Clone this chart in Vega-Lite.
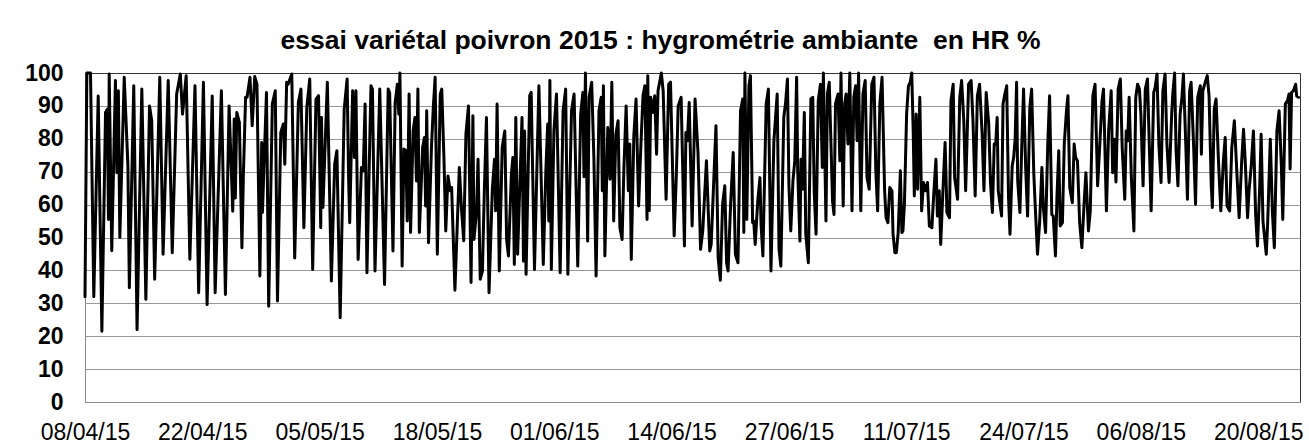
{
  "$schema": "https://vega.github.io/schema/vega-lite/v6.json",
  "width": 1215,
  "height": 329,
  "autosize": {"type": "none"},
  "padding": {"left": 85, "top": 73, "right": 9, "bottom": 43},
  "background": "white",
  "title": {
    "text": "essai variétal poivron 2015 : hygrométrie ambiante\u00a0 en HR %",
    "font": "Liberation Sans",
    "fontSize": 26.5,
    "fontWeight": "bold",
    "color": "black",
    "anchor": "middle",
    "offset": 8,
    "dx": -32
  },
  "config": {
    "view": {"stroke": "#333333", "strokeWidth": 1}
  },
  "data": {
    "values": [
      {"date": "2015-04-08T16:00", "HR": 32},
      {"date": "2015-04-08T21:00", "HR": 100},
      {"date": "2015-04-09T07:00", "HR": 100},
      {"date": "2015-04-09T16:00", "HR": 32},
      {"date": "2015-04-10T04:00", "HR": 93},
      {"date": "2015-04-10T14:00", "HR": 21.5},
      {"date": "2015-04-11T00:00", "HR": 88},
      {"date": "2015-04-11T05:00", "HR": 89},
      {"date": "2015-04-11T08:00", "HR": 55.5},
      {"date": "2015-04-11T10:00", "HR": 99.7},
      {"date": "2015-04-11T17:00", "HR": 46},
      {"date": "2015-04-12T03:00", "HR": 97.7},
      {"date": "2015-04-12T07:00", "HR": 69.7},
      {"date": "2015-04-12T11:00", "HR": 94.6},
      {"date": "2015-04-12T15:00", "HR": 50},
      {"date": "2015-04-13T03:00", "HR": 98.7},
      {"date": "2015-04-13T13:00", "HR": 72},
      {"date": "2015-04-13T17:00", "HR": 34.7},
      {"date": "2015-04-14T05:00", "HR": 96.1},
      {"date": "2015-04-14T14:00", "HR": 22},
      {"date": "2015-04-15T03:00", "HR": 95.1},
      {"date": "2015-04-15T14:00", "HR": 31.2},
      {"date": "2015-04-16T00:00", "HR": 90},
      {"date": "2015-04-16T06:00", "HR": 85.5},
      {"date": "2015-04-16T14:00", "HR": 37.3},
      {"date": "2015-04-17T04:00", "HR": 98.7},
      {"date": "2015-04-17T13:00", "HR": 44.9},
      {"date": "2015-04-18T03:00", "HR": 97.7},
      {"date": "2015-04-18T14:00", "HR": 45.4},
      {"date": "2015-04-19T02:00", "HR": 93.6},
      {"date": "2015-04-19T12:00", "HR": 99.7},
      {"date": "2015-04-19T18:00", "HR": 87.5},
      {"date": "2015-04-20T04:00", "HR": 99.2},
      {"date": "2015-04-20T14:00", "HR": 43.4},
      {"date": "2015-04-21T04:00", "HR": 96.1},
      {"date": "2015-04-21T14:00", "HR": 33.2},
      {"date": "2015-04-22T03:00", "HR": 97.2},
      {"date": "2015-04-22T13:00", "HR": 29.6},
      {"date": "2015-04-23T03:00", "HR": 93},
      {"date": "2015-04-23T11:00", "HR": 33.2},
      {"date": "2015-04-24T04:00", "HR": 94.6},
      {"date": "2015-04-24T15:00", "HR": 32.7},
      {"date": "2015-04-25T01:00", "HR": 90},
      {"date": "2015-04-25T11:00", "HR": 58},
      {"date": "2015-04-25T15:00", "HR": 86},
      {"date": "2015-04-25T18:00", "HR": 62},
      {"date": "2015-04-25T22:00", "HR": 88},
      {"date": "2015-04-26T05:00", "HR": 85},
      {"date": "2015-04-26T12:00", "HR": 46.9},
      {"date": "2015-04-26T16:00", "HR": 69},
      {"date": "2015-04-26T22:00", "HR": 92.6},
      {"date": "2015-04-27T02:00", "HR": 92.6},
      {"date": "2015-04-27T10:00", "HR": 98.7},
      {"date": "2015-04-27T16:00", "HR": 84},
      {"date": "2015-04-27T23:00", "HR": 98.9},
      {"date": "2015-04-28T05:00", "HR": 96.6},
      {"date": "2015-04-28T13:00", "HR": 38.3},
      {"date": "2015-04-28T18:00", "HR": 78.9},
      {"date": "2015-04-28T20:00", "HR": 57.6},
      {"date": "2015-04-29T07:00", "HR": 94.1},
      {"date": "2015-04-29T13:00", "HR": 29.1},
      {"date": "2015-04-29T23:00", "HR": 90.6},
      {"date": "2015-04-30T07:00", "HR": 94.6},
      {"date": "2015-04-30T13:00", "HR": 30.7},
      {"date": "2015-04-30T22:00", "HR": 81.9},
      {"date": "2015-05-01T05:00", "HR": 84.5},
      {"date": "2015-05-01T09:00", "HR": 72.3},
      {"date": "2015-05-01T14:00", "HR": 97.2},
      {"date": "2015-05-01T18:00", "HR": 96.6},
      {"date": "2015-05-02T04:00", "HR": 99.7},
      {"date": "2015-05-02T12:00", "HR": 43.8},
      {"date": "2015-05-02T22:00", "HR": 91},
      {"date": "2015-05-03T05:00", "HR": 95.1},
      {"date": "2015-05-03T13:00", "HR": 53},
      {"date": "2015-05-03T21:00", "HR": 89.5},
      {"date": "2015-05-04T05:00", "HR": 98.2},
      {"date": "2015-05-04T13:00", "HR": 40.3},
      {"date": "2015-05-04T22:00", "HR": 92},
      {"date": "2015-05-05T05:00", "HR": 93.1},
      {"date": "2015-05-05T11:00", "HR": 53},
      {"date": "2015-05-05T13:00", "HR": 86.5},
      {"date": "2015-05-05T17:00", "HR": 59.1},
      {"date": "2015-05-06T05:00", "HR": 97.2},
      {"date": "2015-05-06T16:00", "HR": 36.8},
      {"date": "2015-05-07T01:00", "HR": 72.3},
      {"date": "2015-05-07T07:00", "HR": 76.4},
      {"date": "2015-05-07T16:00", "HR": 25.6},
      {"date": "2015-05-08T03:00", "HR": 89},
      {"date": "2015-05-08T11:00", "HR": 98.2},
      {"date": "2015-05-08T15:00", "HR": 68.2},
      {"date": "2015-05-08T18:00", "HR": 54.5},
      {"date": "2015-05-09T02:00", "HR": 94.6},
      {"date": "2015-05-09T07:00", "HR": 74.3},
      {"date": "2015-05-09T11:00", "HR": 94.6},
      {"date": "2015-05-09T17:00", "HR": 43.3},
      {"date": "2015-05-10T02:00", "HR": 71.3},
      {"date": "2015-05-10T07:00", "HR": 70.3},
      {"date": "2015-05-10T12:00", "HR": 90.6},
      {"date": "2015-05-10T17:00", "HR": 39.3},
      {"date": "2015-05-11T04:00", "HR": 96.1},
      {"date": "2015-05-11T08:00", "HR": 95.1},
      {"date": "2015-05-11T15:00", "HR": 39.8},
      {"date": "2015-05-12T04:00", "HR": 95.1},
      {"date": "2015-05-12T17:00", "HR": 35.7},
      {"date": "2015-05-13T03:00", "HR": 95.1},
      {"date": "2015-05-13T07:00", "HR": 94},
      {"date": "2015-05-13T16:00", "HR": 45.9},
      {"date": "2015-05-13T22:00", "HR": 91},
      {"date": "2015-05-14T04:00", "HR": 96.6},
      {"date": "2015-05-14T08:00", "HR": 87.5},
      {"date": "2015-05-14T11:00", "HR": 100},
      {"date": "2015-05-14T17:00", "HR": 41.3},
      {"date": "2015-05-14T22:00", "HR": 76.9},
      {"date": "2015-05-15T03:00", "HR": 76.4},
      {"date": "2015-05-15T07:00", "HR": 55},
      {"date": "2015-05-15T12:00", "HR": 93.6},
      {"date": "2015-05-15T16:00", "HR": 51.5},
      {"date": "2015-05-15T23:00", "HR": 82.4},
      {"date": "2015-05-16T04:00", "HR": 86.5},
      {"date": "2015-05-16T08:00", "HR": 67.2},
      {"date": "2015-05-16T12:00", "HR": 95.1},
      {"date": "2015-05-16T16:00", "HR": 51.5},
      {"date": "2015-05-17T01:00", "HR": 77.4},
      {"date": "2015-05-17T06:00", "HR": 80.4},
      {"date": "2015-05-17T09:00", "HR": 59.6},
      {"date": "2015-05-17T12:00", "HR": 88.5},
      {"date": "2015-05-17T17:00", "HR": 48.4},
      {"date": "2015-05-18T01:00", "HR": 77.4},
      {"date": "2015-05-18T06:00", "HR": 89.5},
      {"date": "2015-05-18T11:00", "HR": 98.7},
      {"date": "2015-05-18T17:00", "HR": 44.9},
      {"date": "2015-05-19T01:00", "HR": 93.6},
      {"date": "2015-05-19T05:00", "HR": 95.1},
      {"date": "2015-05-19T11:00", "HR": 74.4},
      {"date": "2015-05-19T16:00", "HR": 52},
      {"date": "2015-05-19T22:00", "HR": 68.7},
      {"date": "2015-05-20T04:00", "HR": 64.2},
      {"date": "2015-05-20T08:00", "HR": 65.2},
      {"date": "2015-05-20T17:00", "HR": 34},
      {"date": "2015-05-21T05:00", "HR": 71.3},
      {"date": "2015-05-21T11:00", "HR": 58.6},
      {"date": "2015-05-21T17:00", "HR": 49},
      {"date": "2015-05-21T23:00", "HR": 81.4},
      {"date": "2015-05-22T06:00", "HR": 90},
      {"date": "2015-05-22T13:00", "HR": 36.3},
      {"date": "2015-05-22T18:00", "HR": 87},
      {"date": "2015-05-22T21:00", "HR": 49.4},
      {"date": "2015-05-23T04:00", "HR": 58.1},
      {"date": "2015-05-23T08:00", "HR": 73.8},
      {"date": "2015-05-23T14:00", "HR": 37.3},
      {"date": "2015-05-23T20:00", "HR": 39.8},
      {"date": "2015-05-24T01:00", "HR": 63.2},
      {"date": "2015-05-24T07:00", "HR": 86.5},
      {"date": "2015-05-24T14:00", "HR": 33.2},
      {"date": "2015-05-24T23:00", "HR": 64.7},
      {"date": "2015-05-25T05:00", "HR": 73.8},
      {"date": "2015-05-25T08:00", "HR": 58.1},
      {"date": "2015-05-25T12:00", "HR": 90.6},
      {"date": "2015-05-25T18:00", "HR": 39.8},
      {"date": "2015-05-26T02:00", "HR": 77.4},
      {"date": "2015-05-26T09:00", "HR": 82.4},
      {"date": "2015-05-26T14:00", "HR": 49.4},
      {"date": "2015-05-26T19:00", "HR": 44.4},
      {"date": "2015-05-27T03:00", "HR": 69.2},
      {"date": "2015-05-27T07:00", "HR": 74.3},
      {"date": "2015-05-27T11:00", "HR": 41.8},
      {"date": "2015-05-27T15:00", "HR": 86.5},
      {"date": "2015-05-27T20:00", "HR": 44.9},
      {"date": "2015-05-28T08:00", "HR": 86.5},
      {"date": "2015-05-28T12:00", "HR": 42.8},
      {"date": "2015-05-28T15:00", "HR": 82.4},
      {"date": "2015-05-28T19:00", "HR": 38.8},
      {"date": "2015-05-29T05:00", "HR": 93.1},
      {"date": "2015-05-29T09:00", "HR": 94.1},
      {"date": "2015-05-29T18:00", "HR": 40.3},
      {"date": "2015-05-30T06:00", "HR": 96.1},
      {"date": "2015-05-30T18:00", "HR": 41.8},
      {"date": "2015-05-31T01:00", "HR": 70.3},
      {"date": "2015-05-31T06:00", "HR": 84.5},
      {"date": "2015-05-31T09:00", "HR": 55},
      {"date": "2015-05-31T12:00", "HR": 97.7},
      {"date": "2015-05-31T16:00", "HR": 40.3},
      {"date": "2015-05-31T23:00", "HR": 82.4},
      {"date": "2015-06-01T06:00", "HR": 93.6},
      {"date": "2015-06-01T16:00", "HR": 39.3},
      {"date": "2015-06-02T00:00", "HR": 88.5},
      {"date": "2015-06-02T07:00", "HR": 95.1},
      {"date": "2015-06-02T13:00", "HR": 38.8},
      {"date": "2015-06-02T23:00", "HR": 88.5},
      {"date": "2015-06-03T06:00", "HR": 93.6},
      {"date": "2015-06-03T16:00", "HR": 41.3},
      {"date": "2015-06-04T00:00", "HR": 87.5},
      {"date": "2015-06-04T06:00", "HR": 94.1},
      {"date": "2015-06-04T09:00", "HR": 68.5},
      {"date": "2015-06-04T13:00", "HR": 100},
      {"date": "2015-06-04T19:00", "HR": 48.9},
      {"date": "2015-06-04T23:00", "HR": 92.6},
      {"date": "2015-06-05T06:00", "HR": 97.2},
      {"date": "2015-06-05T12:00", "HR": 74.3},
      {"date": "2015-06-05T18:00", "HR": 38.3},
      {"date": "2015-06-06T02:00", "HR": 88.5},
      {"date": "2015-06-06T08:00", "HR": 92.6},
      {"date": "2015-06-06T11:00", "HR": 64.2},
      {"date": "2015-06-06T14:00", "HR": 96.1},
      {"date": "2015-06-06T18:00", "HR": 44.4},
      {"date": "2015-06-07T02:00", "HR": 83.4},
      {"date": "2015-06-07T08:00", "HR": 67.7},
      {"date": "2015-06-07T13:00", "HR": 97.2},
      {"date": "2015-06-07T18:00", "HR": 55},
      {"date": "2015-06-08T00:00", "HR": 81.4},
      {"date": "2015-06-08T06:00", "HR": 85.5},
      {"date": "2015-06-08T11:00", "HR": 53},
      {"date": "2015-06-08T17:00", "HR": 49.4},
      {"date": "2015-06-08T22:00", "HR": 71.3},
      {"date": "2015-06-09T04:00", "HR": 90},
      {"date": "2015-06-09T10:00", "HR": 64.2},
      {"date": "2015-06-09T14:00", "HR": 78.4},
      {"date": "2015-06-09T18:00", "HR": 43.3},
      {"date": "2015-06-10T01:00", "HR": 80.9},
      {"date": "2015-06-10T07:00", "HR": 92.1},
      {"date": "2015-06-10T14:00", "HR": 59.6},
      {"date": "2015-06-10T20:00", "HR": 77.4},
      {"date": "2015-06-11T02:00", "HR": 93.1},
      {"date": "2015-06-11T07:00", "HR": 96.1},
      {"date": "2015-06-11T13:00", "HR": 55.5},
      {"date": "2015-06-11T15:00", "HR": 99.2},
      {"date": "2015-06-11T19:00", "HR": 58.1},
      {"date": "2015-06-11T23:00", "HR": 92.6},
      {"date": "2015-06-12T04:00", "HR": 88},
      {"date": "2015-06-12T10:00", "HR": 93.1},
      {"date": "2015-06-12T15:00", "HR": 75.3},
      {"date": "2015-06-12T19:00", "HR": 94.6},
      {"date": "2015-06-13T04:00", "HR": 100},
      {"date": "2015-06-13T09:00", "HR": 94.6},
      {"date": "2015-06-13T17:00", "HR": 61.6},
      {"date": "2015-06-14T00:00", "HR": 96.6},
      {"date": "2015-06-14T05:00", "HR": 97.2},
      {"date": "2015-06-14T15:00", "HR": 50.5},
      {"date": "2015-06-14T21:00", "HR": 69.2},
      {"date": "2015-06-15T02:00", "HR": 90},
      {"date": "2015-06-15T10:00", "HR": 92.6},
      {"date": "2015-06-15T19:00", "HR": 47.4},
      {"date": "2015-06-15T23:00", "HR": 81.9},
      {"date": "2015-06-16T03:00", "HR": 79.4},
      {"date": "2015-06-16T08:00", "HR": 91},
      {"date": "2015-06-16T16:00", "HR": 53.5},
      {"date": "2015-06-17T00:00", "HR": 92.1},
      {"date": "2015-06-17T08:00", "HR": 75.8},
      {"date": "2015-06-17T15:00", "HR": 46.4},
      {"date": "2015-06-17T21:00", "HR": 52},
      {"date": "2015-06-18T07:00", "HR": 73.3},
      {"date": "2015-06-18T16:00", "HR": 45.9},
      {"date": "2015-06-18T20:00", "HR": 48},
      {"date": "2015-06-19T09:00", "HR": 84},
      {"date": "2015-06-19T15:00", "HR": 43.8},
      {"date": "2015-06-19T21:00", "HR": 37},
      {"date": "2015-06-20T03:00", "HR": 60.1},
      {"date": "2015-06-20T09:00", "HR": 65.7},
      {"date": "2015-06-20T14:00", "HR": 42.3},
      {"date": "2015-06-20T18:00", "HR": 39.8},
      {"date": "2015-06-21T01:00", "HR": 60.1},
      {"date": "2015-06-21T08:00", "HR": 75.8},
      {"date": "2015-06-21T14:00", "HR": 44.9},
      {"date": "2015-06-21T21:00", "HR": 42.3},
      {"date": "2015-06-22T04:00", "HR": 88.5},
      {"date": "2015-06-22T10:00", "HR": 92.1},
      {"date": "2015-06-22T13:00", "HR": 51.5},
      {"date": "2015-06-22T16:00", "HR": 100},
      {"date": "2015-06-22T21:00", "HR": 55.5},
      {"date": "2015-06-23T03:00", "HR": 96.1},
      {"date": "2015-06-23T07:00", "HR": 99.2},
      {"date": "2015-06-23T13:00", "HR": 54.5},
      {"date": "2015-06-23T16:00", "HR": 55},
      {"date": "2015-06-23T20:00", "HR": 47.9},
      {"date": "2015-06-24T03:00", "HR": 61.1},
      {"date": "2015-06-24T09:00", "HR": 68.2},
      {"date": "2015-06-24T12:00", "HR": 54},
      {"date": "2015-06-24T17:00", "HR": 44.4},
      {"date": "2015-06-25T02:00", "HR": 90.6},
      {"date": "2015-06-25T08:00", "HR": 95.1},
      {"date": "2015-06-25T15:00", "HR": 39.8},
      {"date": "2015-06-25T23:00", "HR": 79.4},
      {"date": "2015-06-26T08:00", "HR": 93.6},
      {"date": "2015-06-26T13:00", "HR": 46.4},
      {"date": "2015-06-26T18:00", "HR": 41.3},
      {"date": "2015-06-27T02:00", "HR": 86.5},
      {"date": "2015-06-27T07:00", "HR": 91},
      {"date": "2015-06-27T12:00", "HR": 98.2},
      {"date": "2015-06-27T16:00", "HR": 65.7},
      {"date": "2015-06-27T21:00", "HR": 52},
      {"date": "2015-06-28T03:00", "HR": 67.2},
      {"date": "2015-06-28T08:00", "HR": 73.3},
      {"date": "2015-06-28T13:00", "HR": 98.7},
      {"date": "2015-06-28T16:00", "HR": 70.3},
      {"date": "2015-06-28T22:00", "HR": 48.9},
      {"date": "2015-06-29T01:00", "HR": 73.8},
      {"date": "2015-06-29T05:00", "HR": 64.7},
      {"date": "2015-06-29T10:00", "HR": 88},
      {"date": "2015-06-29T14:00", "HR": 51},
      {"date": "2015-06-29T21:00", "HR": 42.3},
      {"date": "2015-06-30T04:00", "HR": 92.1},
      {"date": "2015-06-30T09:00", "HR": 92.6},
      {"date": "2015-06-30T13:00", "HR": 64},
      {"date": "2015-06-30T18:00", "HR": 51},
      {"date": "2015-07-01T00:00", "HR": 91.6},
      {"date": "2015-07-01T06:00", "HR": 96.6},
      {"date": "2015-07-01T11:00", "HR": 71.3},
      {"date": "2015-07-01T14:00", "HR": 100},
      {"date": "2015-07-01T21:00", "HR": 55},
      {"date": "2015-07-02T01:00", "HR": 93.6},
      {"date": "2015-07-02T06:00", "HR": 97.2},
      {"date": "2015-07-02T15:00", "HR": 61.1},
      {"date": "2015-07-02T19:00", "HR": 57},
      {"date": "2015-07-02T23:00", "HR": 90.6},
      {"date": "2015-07-03T06:00", "HR": 93.6},
      {"date": "2015-07-03T11:00", "HR": 73.3},
      {"date": "2015-07-03T14:00", "HR": 100},
      {"date": "2015-07-03T20:00", "HR": 59.6},
      {"date": "2015-07-04T00:00", "HR": 90.6},
      {"date": "2015-07-04T04:00", "HR": 93.6},
      {"date": "2015-07-04T09:00", "HR": 78.4},
      {"date": "2015-07-04T14:00", "HR": 100},
      {"date": "2015-07-04T20:00", "HR": 58.1},
      {"date": "2015-07-05T01:00", "HR": 92.6},
      {"date": "2015-07-05T06:00", "HR": 96.1},
      {"date": "2015-07-05T10:00", "HR": 79.4},
      {"date": "2015-07-05T14:00", "HR": 100},
      {"date": "2015-07-05T20:00", "HR": 58.1},
      {"date": "2015-07-06T02:00", "HR": 93.6},
      {"date": "2015-07-06T08:00", "HR": 97.7},
      {"date": "2015-07-06T13:00", "HR": 68.2},
      {"date": "2015-07-06T19:00", "HR": 64.7},
      {"date": "2015-07-07T02:00", "HR": 96.6},
      {"date": "2015-07-07T08:00", "HR": 98.7},
      {"date": "2015-07-07T13:00", "HR": 70.3},
      {"date": "2015-07-07T18:00", "HR": 58.1},
      {"date": "2015-07-08T00:00", "HR": 90.6},
      {"date": "2015-07-08T06:00", "HR": 98.7},
      {"date": "2015-07-08T13:00", "HR": 64.2},
      {"date": "2015-07-08T17:00", "HR": 56},
      {"date": "2015-07-08T22:00", "HR": 54.5},
      {"date": "2015-07-09T03:00", "HR": 65.2},
      {"date": "2015-07-09T09:00", "HR": 64.2},
      {"date": "2015-07-09T12:00", "HR": 51},
      {"date": "2015-07-09T17:00", "HR": 45.4},
      {"date": "2015-07-09T21:00", "HR": 45.4},
      {"date": "2015-07-10T02:00", "HR": 51.5},
      {"date": "2015-07-10T08:00", "HR": 70.3},
      {"date": "2015-07-10T12:00", "HR": 51.5},
      {"date": "2015-07-10T15:00", "HR": 52},
      {"date": "2015-07-10T19:00", "HR": 60.1},
      {"date": "2015-07-11T01:00", "HR": 87.5},
      {"date": "2015-07-11T06:00", "HR": 96.1},
      {"date": "2015-07-11T11:00", "HR": 97.2},
      {"date": "2015-07-11T15:00", "HR": 100},
      {"date": "2015-07-11T19:00", "HR": 82.4},
      {"date": "2015-07-11T22:00", "HR": 62.6},
      {"date": "2015-07-12T03:00", "HR": 87.5},
      {"date": "2015-07-12T07:00", "HR": 64.7},
      {"date": "2015-07-12T13:00", "HR": 92.6},
      {"date": "2015-07-12T18:00", "HR": 58.1},
      {"date": "2015-07-12T23:00", "HR": 66.7},
      {"date": "2015-07-13T05:00", "HR": 64.2},
      {"date": "2015-07-13T10:00", "HR": 66.7},
      {"date": "2015-07-13T15:00", "HR": 53.5},
      {"date": "2015-07-13T22:00", "HR": 53},
      {"date": "2015-07-14T03:00", "HR": 63.1},
      {"date": "2015-07-14T09:00", "HR": 73.8},
      {"date": "2015-07-14T13:00", "HR": 56.5},
      {"date": "2015-07-14T18:00", "HR": 64.2},
      {"date": "2015-07-14T22:00", "HR": 47.9},
      {"date": "2015-07-15T04:00", "HR": 64.2},
      {"date": "2015-07-15T10:00", "HR": 78.9},
      {"date": "2015-07-15T15:00", "HR": 57.6},
      {"date": "2015-07-15T22:00", "HR": 56},
      {"date": "2015-07-16T02:00", "HR": 91.6},
      {"date": "2015-07-16T08:00", "HR": 96.6},
      {"date": "2015-07-16T12:00", "HR": 68.2},
      {"date": "2015-07-16T20:00", "HR": 61.6},
      {"date": "2015-07-17T02:00", "HR": 92.6},
      {"date": "2015-07-17T07:00", "HR": 97.7},
      {"date": "2015-07-17T13:00", "HR": 85.5},
      {"date": "2015-07-17T18:00", "HR": 64.2},
      {"date": "2015-07-18T02:00", "HR": 96.6},
      {"date": "2015-07-18T09:00", "HR": 97.7},
      {"date": "2015-07-18T14:00", "HR": 85.5},
      {"date": "2015-07-18T20:00", "HR": 62.6},
      {"date": "2015-07-19T02:00", "HR": 93.1},
      {"date": "2015-07-19T08:00", "HR": 96.6},
      {"date": "2015-07-19T15:00", "HR": 81.4},
      {"date": "2015-07-19T20:00", "HR": 64.2},
      {"date": "2015-07-20T02:00", "HR": 94.1},
      {"date": "2015-07-20T09:00", "HR": 84.5},
      {"date": "2015-07-20T14:00", "HR": 66.2},
      {"date": "2015-07-20T19:00", "HR": 57.6},
      {"date": "2015-07-21T00:00", "HR": 78.4},
      {"date": "2015-07-21T04:00", "HR": 78.4},
      {"date": "2015-07-21T08:00", "HR": 86.5},
      {"date": "2015-07-21T11:00", "HR": 64.2},
      {"date": "2015-07-21T20:00", "HR": 56.5},
      {"date": "2015-07-22T00:00", "HR": 90.6},
      {"date": "2015-07-22T05:00", "HR": 93.6},
      {"date": "2015-07-22T10:00", "HR": 96.1},
      {"date": "2015-07-22T15:00", "HR": 62.1},
      {"date": "2015-07-22T19:00", "HR": 51},
      {"date": "2015-07-23T01:00", "HR": 71.8},
      {"date": "2015-07-23T05:00", "HR": 74.3},
      {"date": "2015-07-23T09:00", "HR": 79.9},
      {"date": "2015-07-23T13:00", "HR": 97.2},
      {"date": "2015-07-23T16:00", "HR": 67.2},
      {"date": "2015-07-23T22:00", "HR": 57.6},
      {"date": "2015-07-24T03:00", "HR": 77.4},
      {"date": "2015-07-24T08:00", "HR": 95.1},
      {"date": "2015-07-24T14:00", "HR": 70.3},
      {"date": "2015-07-24T19:00", "HR": 56.5},
      {"date": "2015-07-25T01:00", "HR": 89.5},
      {"date": "2015-07-25T06:00", "HR": 95.1},
      {"date": "2015-07-25T12:00", "HR": 69.2},
      {"date": "2015-07-25T16:00", "HR": 59.1},
      {"date": "2015-07-25T22:00", "HR": 44.9},
      {"date": "2015-07-26T04:00", "HR": 55},
      {"date": "2015-07-26T10:00", "HR": 71.3},
      {"date": "2015-07-26T14:00", "HR": 59.1},
      {"date": "2015-07-26T20:00", "HR": 51.5},
      {"date": "2015-07-27T02:00", "HR": 78.4},
      {"date": "2015-07-27T07:00", "HR": 93.1},
      {"date": "2015-07-27T13:00", "HR": 57},
      {"date": "2015-07-27T17:00", "HR": 56.5},
      {"date": "2015-07-27T23:00", "HR": 44.4},
      {"date": "2015-07-28T03:00", "HR": 62.1},
      {"date": "2015-07-28T08:00", "HR": 76.4},
      {"date": "2015-07-28T12:00", "HR": 53.5},
      {"date": "2015-07-28T18:00", "HR": 54.5},
      {"date": "2015-07-28T23:00", "HR": 78.4},
      {"date": "2015-07-29T05:00", "HR": 88.5},
      {"date": "2015-07-29T09:00", "HR": 93.1},
      {"date": "2015-07-29T14:00", "HR": 65.2},
      {"date": "2015-07-29T21:00", "HR": 60.6},
      {"date": "2015-07-30T02:00", "HR": 78.4},
      {"date": "2015-07-30T06:00", "HR": 74.3},
      {"date": "2015-07-30T11:00", "HR": 73.3},
      {"date": "2015-07-30T17:00", "HR": 54.5},
      {"date": "2015-07-30T23:00", "HR": 46.9},
      {"date": "2015-07-31T05:00", "HR": 60.1},
      {"date": "2015-07-31T10:00", "HR": 69.7},
      {"date": "2015-07-31T17:00", "HR": 52},
      {"date": "2015-07-31T22:00", "HR": 58.1},
      {"date": "2015-08-01T05:00", "HR": 93.1},
      {"date": "2015-08-01T11:00", "HR": 96.6},
      {"date": "2015-08-01T18:00", "HR": 65.7},
      {"date": "2015-08-02T00:00", "HR": 78.4},
      {"date": "2015-08-02T06:00", "HR": 91.6},
      {"date": "2015-08-02T10:00", "HR": 95.1},
      {"date": "2015-08-02T18:00", "HR": 58.1},
      {"date": "2015-08-03T00:00", "HR": 82.4},
      {"date": "2015-08-03T07:00", "HR": 94.6},
      {"date": "2015-08-03T11:00", "HR": 69.7},
      {"date": "2015-08-03T16:00", "HR": 79.9},
      {"date": "2015-08-03T20:00", "HR": 66.9},
      {"date": "2015-08-04T02:00", "HR": 95.1},
      {"date": "2015-08-04T08:00", "HR": 98.2},
      {"date": "2015-08-04T13:00", "HR": 77.4},
      {"date": "2015-08-04T20:00", "HR": 61.6},
      {"date": "2015-08-05T00:00", "HR": 82.4},
      {"date": "2015-08-05T04:00", "HR": 79.4},
      {"date": "2015-08-05T08:00", "HR": 92.6},
      {"date": "2015-08-05T14:00", "HR": 68.2},
      {"date": "2015-08-05T21:00", "HR": 52},
      {"date": "2015-08-06T02:00", "HR": 92.6},
      {"date": "2015-08-06T07:00", "HR": 96.6},
      {"date": "2015-08-06T12:00", "HR": 95.1},
      {"date": "2015-08-06T16:00", "HR": 87.5},
      {"date": "2015-08-06T22:00", "HR": 65.7},
      {"date": "2015-08-07T04:00", "HR": 95.1},
      {"date": "2015-08-07T10:00", "HR": 98.2},
      {"date": "2015-08-07T15:00", "HR": 77.9},
      {"date": "2015-08-07T20:00", "HR": 58.1},
      {"date": "2015-08-08T03:00", "HR": 94.1},
      {"date": "2015-08-08T07:00", "HR": 95.6},
      {"date": "2015-08-08T12:00", "HR": 99.7},
      {"date": "2015-08-08T17:00", "HR": 78.4},
      {"date": "2015-08-08T23:00", "HR": 66.7},
      {"date": "2015-08-09T04:00", "HR": 94.6},
      {"date": "2015-08-09T10:00", "HR": 99.7},
      {"date": "2015-08-09T15:00", "HR": 78.4},
      {"date": "2015-08-09T21:00", "HR": 66.7},
      {"date": "2015-08-10T04:00", "HR": 87.5},
      {"date": "2015-08-10T07:00", "HR": 93.6},
      {"date": "2015-08-10T12:00", "HR": 100},
      {"date": "2015-08-10T16:00", "HR": 76.4},
      {"date": "2015-08-10T21:00", "HR": 65.7},
      {"date": "2015-08-11T03:00", "HR": 87.5},
      {"date": "2015-08-11T08:00", "HR": 92.6},
      {"date": "2015-08-11T12:00", "HR": 99.7},
      {"date": "2015-08-11T19:00", "HR": 76.4},
      {"date": "2015-08-11T23:00", "HR": 61.6},
      {"date": "2015-08-12T05:00", "HR": 94.6},
      {"date": "2015-08-12T09:00", "HR": 97.2},
      {"date": "2015-08-12T16:00", "HR": 77.4},
      {"date": "2015-08-12T21:00", "HR": 60.1},
      {"date": "2015-08-13T03:00", "HR": 92.6},
      {"date": "2015-08-13T10:00", "HR": 96.1},
      {"date": "2015-08-13T13:00", "HR": 75.3},
      {"date": "2015-08-13T17:00", "HR": 94.6},
      {"date": "2015-08-13T22:00", "HR": 96.6},
      {"date": "2015-08-14T05:00", "HR": 99.2},
      {"date": "2015-08-14T10:00", "HR": 93},
      {"date": "2015-08-14T16:00", "HR": 65.7},
      {"date": "2015-08-14T19:00", "HR": 59.1},
      {"date": "2015-08-15T00:00", "HR": 89},
      {"date": "2015-08-15T05:00", "HR": 92.1},
      {"date": "2015-08-15T12:00", "HR": 72.3},
      {"date": "2015-08-15T18:00", "HR": 58.1},
      {"date": "2015-08-16T01:00", "HR": 73.3},
      {"date": "2015-08-16T06:00", "HR": 80.4},
      {"date": "2015-08-16T11:00", "HR": 59.6},
      {"date": "2015-08-16T18:00", "HR": 58.1},
      {"date": "2015-08-17T00:00", "HR": 77.4},
      {"date": "2015-08-17T07:00", "HR": 85.5},
      {"date": "2015-08-17T14:00", "HR": 69.2},
      {"date": "2015-08-17T20:00", "HR": 56},
      {"date": "2015-08-18T03:00", "HR": 73.3},
      {"date": "2015-08-18T08:00", "HR": 82.9},
      {"date": "2015-08-18T13:00", "HR": 72.3},
      {"date": "2015-08-18T19:00", "HR": 56},
      {"date": "2015-08-18T23:00", "HR": 64.2},
      {"date": "2015-08-19T05:00", "HR": 71.8},
      {"date": "2015-08-19T11:00", "HR": 82.4},
      {"date": "2015-08-19T17:00", "HR": 57},
      {"date": "2015-08-19T22:00", "HR": 47.4},
      {"date": "2015-08-20T04:00", "HR": 65.2},
      {"date": "2015-08-20T08:00", "HR": 81.4},
      {"date": "2015-08-20T13:00", "HR": 55},
      {"date": "2015-08-20T22:00", "HR": 44.9},
      {"date": "2015-08-21T02:00", "HR": 55},
      {"date": "2015-08-21T09:00", "HR": 79.9},
      {"date": "2015-08-21T15:00", "HR": 57},
      {"date": "2015-08-21T20:00", "HR": 46.9},
      {"date": "2015-08-22T03:00", "HR": 82.4},
      {"date": "2015-08-22T09:00", "HR": 88.5},
      {"date": "2015-08-22T15:00", "HR": 72.3},
      {"date": "2015-08-22T19:00", "HR": 55.5},
      {"date": "2015-08-23T02:00", "HR": 90.6},
      {"date": "2015-08-23T08:00", "HR": 91.6},
      {"date": "2015-08-23T12:00", "HR": 93.6},
      {"date": "2015-08-23T15:00", "HR": 70.8},
      {"date": "2015-08-23T19:00", "HR": 94.1},
      {"date": "2015-08-24T00:00", "HR": 94.6},
      {"date": "2015-08-24T06:00", "HR": 96.6},
      {"date": "2015-08-24T09:00", "HR": 93},
      {"date": "2015-08-24T14:00", "HR": 92.6}
    ]
  },
  "mark": {"type": "line", "color": "black", "strokeWidth": 3, "strokeJoin": "round", "strokeCap": "round"},
  "encoding": {
    "x": {
      "field": "date",
      "type": "temporal",
      "scale": {
        "domain": [
          {"year": 2015, "month": 4, "date": 8, "hours": 16},
          {"year": 2015, "month": 8, "date": 24, "hours": 18}
        ]
      },
      "axis": {
        "title": null,
        "values": [
          {"year": 2015, "month": 4, "date": 8, "hours": 16},
          {"year": 2015, "month": 4, "date": 22, "hours": 0},
          {"year": 2015, "month": 5, "date": 5, "hours": 8},
          {"year": 2015, "month": 5, "date": 18, "hours": 16},
          {"year": 2015, "month": 6, "date": 1, "hours": 0},
          {"year": 2015, "month": 6, "date": 14, "hours": 8},
          {"year": 2015, "month": 6, "date": 27, "hours": 16},
          {"year": 2015, "month": 7, "date": 11, "hours": 0},
          {"year": 2015, "month": 7, "date": 24, "hours": 8},
          {"year": 2015, "month": 8, "date": 6, "hours": 16},
          {"year": 2015, "month": 8, "date": 20, "hours": 0}
        ],
        "format": "%d/%m/%y",
        "labelFont": "Liberation Sans",
        "labelFontSize": 23,
        "labelColor": "black",
        "ticks": false,
        "tickSize": 0,
        "grid": false,
        "domainColor": "#8c8c8c",
        "labelPadding": 19,
        "labelFlush": false,
        "labelOverlap": false,
        "labelBound": false
      }
    },
    "y": {
      "field": "HR",
      "type": "quantitative",
      "scale": {"domain": [0, 100], "nice": false},
      "axis": {
        "title": null,
        "values": [0, 10, 20, 30, 40, 50, 60, 70, 80, 90, 100],
        "labelFont": "Liberation Sans",
        "labelFontSize": 23,
        "labelFontWeight": "bold",
        "labelColor": "black",
        "ticks": false,
        "tickSize": 0,
        "labelPadding": 22,
        "labelFlush": false,
        "grid": true,
        "gridColor": {"condition": {"test": "datum.value === 100", "value": "#333333"}, "value": "#999999"},
        "gridWidth": 1,
        "domainColor": "#8c8c8c"
      }
    }
  }
}
